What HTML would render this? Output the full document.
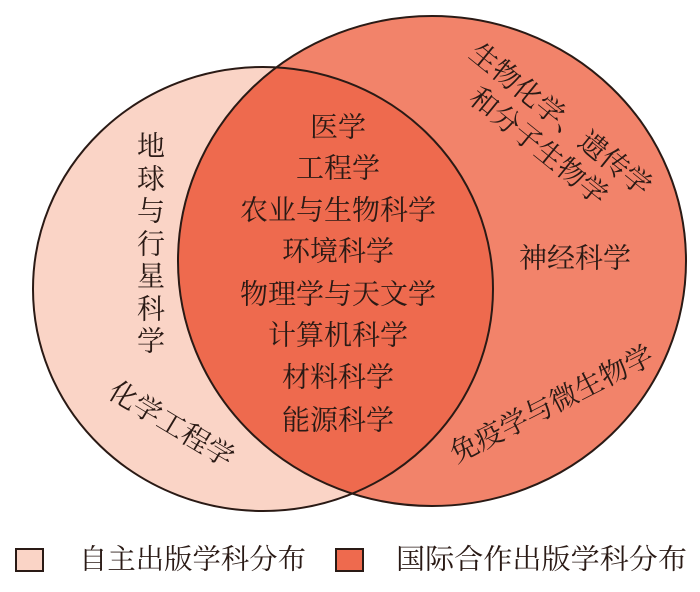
<!DOCTYPE html>
<html><head><meta charset="utf-8"><style>
html,body{margin:0;padding:0;background:#fff;}
svg text{font-family:"Liberation Serif","Noto Serif CJK SC",serif;fill:#2a1a15;}
</style></head><body>
<svg width="700" height="587" viewBox="0 0 700 587" xmlns="http://www.w3.org/2000/svg">
<defs>
<clipPath id="cl"><ellipse cx="263" cy="289" rx="230" ry="222"/></clipPath>
</defs>
<ellipse cx="432" cy="261" rx="254" ry="245" fill="#f2836a"/>
<ellipse cx="263" cy="289" rx="230" ry="222" fill="#fad4c6"/>
<ellipse cx="432" cy="261" rx="254" ry="245" fill="#ee6a4e" clip-path="url(#cl)"/>
<ellipse cx="432" cy="261" rx="254" ry="245" fill="none" stroke="#2a1a15" stroke-width="2"/>
<ellipse cx="263" cy="289" rx="230" ry="222" fill="none" stroke="#2a1a15" stroke-width="2"/>
<g font-size="28" text-anchor="middle" dominant-baseline="central">
<text x="338" y="128">医学</text>
<text x="338" y="169">工程学</text>
<text x="338" y="211">农业与生物科学</text>
<text x="338" y="252">环境科学</text>
<text x="338" y="295">物理学与天文学</text>
<text x="338" y="336">计算机科学</text>
<text x="338" y="378">材料科学</text>
<text x="338" y="421">能源科学</text>
<text x="575" y="259">神经科学</text>
<text x="151" y="147">地</text><text x="151" y="180">球</text><text x="151" y="212">与</text>
<text x="151" y="245">行</text><text x="151" y="277">星</text><text x="151" y="310">科</text><text x="151" y="342">学</text>
<text transform="translate(171,425) rotate(31)">化学工程学</text>
<text transform="translate(560,120) rotate(39)">生物化学、遗传学</text>
<text transform="translate(538,147) rotate(39)">和分子生物学</text>
<text transform="translate(552,405) rotate(-27)">免疫学与微生物学</text>
</g>
<rect x="16" y="549" width="27" height="22" fill="#fad4c6" stroke="#2a1a15" stroke-width="2"/>
<rect x="336" y="549" width="27" height="22" fill="#ee6a4e" stroke="#2a1a15" stroke-width="2"/>
<g font-size="28" dominant-baseline="central">
<text x="79" y="560" textLength="227" lengthAdjust="spacingAndGlyphs">自主出版学科分布</text>
<text x="396" y="560" textLength="291" lengthAdjust="spacingAndGlyphs">国际合作出版学科分布</text>
</g>
</svg>
</body></html>
